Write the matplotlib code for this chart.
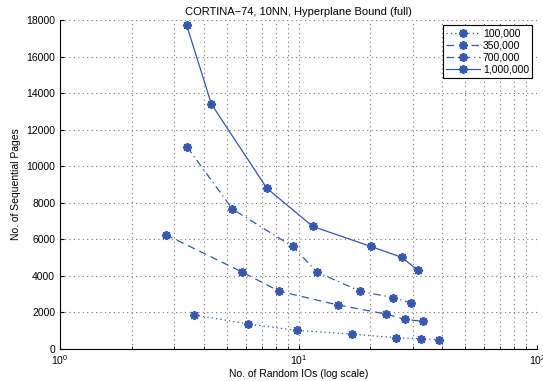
import numpy as np
import matplotlib
matplotlib.use("Agg")
import matplotlib.pyplot as plt
from matplotlib.ticker import LogLocator, NullFormatter

plt.rcParams['font.family'] = ['Liberation Sans', 'DejaVu Sans']

# Data (x = random IOs, y = sequential pages)
labels = ['100,000', '350,000', '700,000', '1,000,000']

x_100k = [3.66, 6.16, 9.85, 16.8, 25.5, 32.5, 38.8]
y_100k = [1850, 1350, 1000, 800, 600, 550, 500]

x_350k = [2.77, 5.80, 8.28, 14.56, 23.2, 28.0, 33.3]
y_350k = [6250, 4200, 3150, 2400, 1900, 1600, 1500]

x_700k = [3.41, 5.28, 9.44, 11.94, 18.07, 24.9, 29.7]
y_700k = [11050, 7650, 5600, 4200, 3150, 2800, 2500]

x_1m = [3.39, 4.31, 7.35, 11.45, 20.1, 27.1, 31.5]
y_1m = [17750, 13400, 8800, 6700, 5600, 5000, 4300]

COLOR = '#3557AE'
ASTERISK = (8, 2, 0)  # matlab-like '*' marker

fig = plt.figure(figsize=(5.43, 3.81), dpi=100)
ax = fig.add_axes([0.1105, 0.0848, 0.879, 0.8622])

series = [(x_100k, y_100k, (0, (1, 2.5))),
          (x_350k, y_350k, (0, (6, 4))),
          (x_700k, y_700k, (0, (6, 3, 1, 3))),
          (x_1m, y_1m, '-')]
for (xs, ys, ls), lab in zip(series, labels):
    ax.plot(xs, ys, linestyle=ls, color=COLOR, linewidth=0.9,
            marker=ASTERISK, markersize=6.5, markeredgewidth=1.3, label=lab)

ax.set_xscale('log')
ax.set_xlim(1, 100)
ax.set_ylim(0, 18000)
ax.set_yticks(np.arange(0, 18001, 2000))
ax.xaxis.set_minor_locator(LogLocator(base=10, subs=np.arange(2, 10)))
ax.xaxis.set_minor_formatter(NullFormatter())

ax.grid(True, which='major', linestyle=(0, (1, 3)), color='#777777', linewidth=0.8)
ax.grid(True, which='minor', axis='x', linestyle=(0, (1, 3)), color='#777777', linewidth=0.8)

ax.spines['top'].set_visible(False)
ax.spines['right'].set_visible(False)
ax.tick_params(direction='in', labelsize=7.5, length=3)
ax.tick_params(which='minor', direction='in', length=2)

ax.set_title('CORTINA\u221274, 10NN, Hyperplane Bound (full)', fontsize=8, pad=4)
ax.set_xlabel('No. of Random IOs (log scale)', fontsize=7.5, labelpad=1)
ax.set_ylabel('No. of Sequential Pages', fontsize=7.5)

leg = ax.legend(loc='upper right', fontsize=7.5, handlelength=3.2,
                fancybox=False, framealpha=1, edgecolor='black',
                borderpad=0.3, labelspacing=0.2, handletextpad=0.3,
                borderaxespad=0.5)
leg.get_frame().set_linewidth(0.8)

fig.savefig('out.png', dpi=100)
